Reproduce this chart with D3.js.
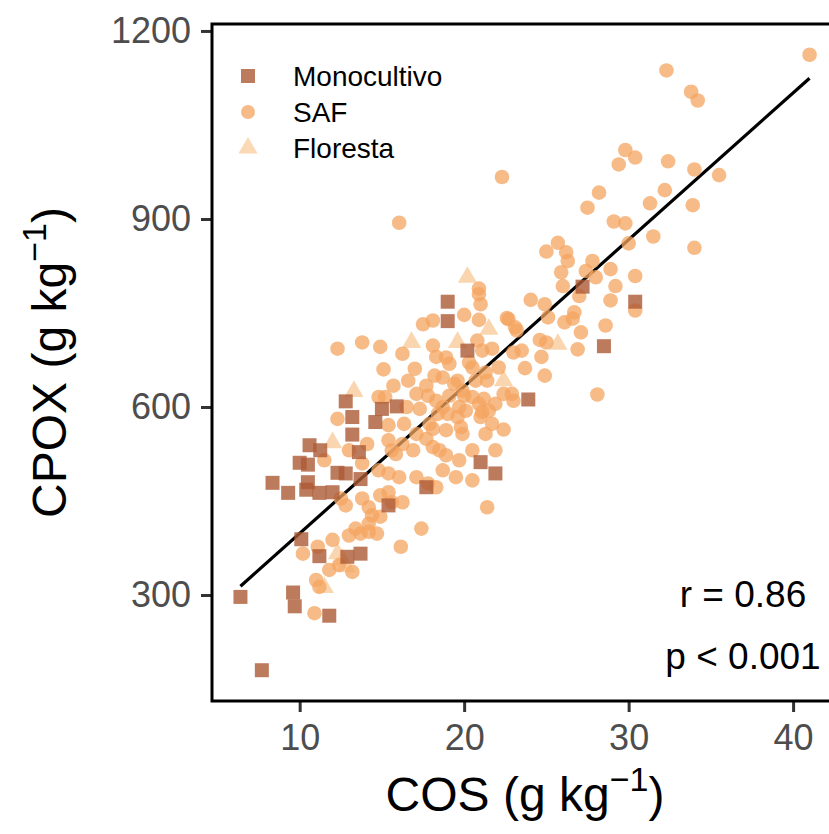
<!DOCTYPE html>
<html>
<head>
<meta charset="utf-8">
<script src="https://cdn.jsdelivr.net/npm/d3@7"></script>
<style>
  body { margin: 0; background: #fff; }
  svg { display: block; font-family: "Liberation Sans", Arial, sans-serif; }
</style>
</head>
<body>
<svg id="chart" width="829" height="834"></svg>
<script>
// COS (x) vs CPOX (y), three land uses

var mono = [[6.4,297],[7.7,180],[9.6,304],[9.7,282],[11.8,267],[10.1,389],[11.2,362],[12.9,361],
  [13.7,366],[8.35,479],[9.3,463],[10.5,480],[10.4,468],[11.2,463],[12.0,464],[12.3,495],
  [12.8,494],[13.7,485],[10.0,511],[10.5,508],[10.6,539],[11.25,531],[13.6,528],[13.2,556],
  [14.6,576],[13.2,584],[12.8,609],[15.0,597],[15.9,601],[15.4,443],[17.7,472],[21.0,512],
  [21.9,494],[19.0,768],[19.0,737],[20.2,690],[23.9,612],[27.2,792],[28.5,697],[30.4,768]];

var saf = [[41.0,1162],[32.3,1137],[33.8,1103],[34.2,1089],[22.3,967],[16.05,894],
  [29.8,1010],[30.4,998],[29.4,987],[32.4,992],[34.0,979],[35.5,970],
  [28.2,942],[27.5,918],[32.2,946],[31.3,925],[33.9,922],[29.1,896],[29.8,893],[31.5,872],
  [25.7,862],[25.0,848],[26.2,847],[30.0,861],[34.0,854],
  [26.3,833],[25.9,815],[27.8,833],[27.4,817],[28.0,807],[28.9,820],[30.4,809],[29.2,793],
  [26.0,793],[20.9,789],[27.0,777],[30.4,754],[28.9,770],[24.05,771],[24.9,764],[22.7,740],
  [25.1,743],[26.1,735],[26.7,751],[26.6,741],[28.6,730],[27.1,719],[23.2,722],[24.6,707],
  [25.0,703],[26.9,692],[23.0,687],[23.5,690],[24.7,680],[22.1,663],[23.7,662],[24.9,650],
  [22.4,621],[23.0,610],[28.1,620],[22.4,564],
  [20.9,780],[21.0,764],[20.0,747],[20.9,739],[22.6,742],[23.1,727],[20.8,706],[21.7,693],
  [21.1,690],[18.9,679],[19.1,669],[20.3,671],[20.5,663],[21.3,655],[18.7,647],[19.6,642],
  [20.7,642],[21.4,642],[22.9,621],[21.2,613],[21.9,605],[20.0,618],[19.7,600],[20.1,594],
  [19.1,618],[19.0,589],[21.1,592],[21.0,584],[19.8,568],[19.9,557],
  [17.5,732],[18.1,738],[12.3,693],[13.8,703],[14.9,696],[16.25,685],[18.1,698],[18.3,680],
  [15.1,660],[17.0,661],[18.2,650],[16.6,642],[15.7,634],[17.7,634],[17.1,621],[17.8,618],
  [14.8,616],[15.2,616],[16.5,600],[18.3,610],[18.4,589],[18.7,600],[12.3,581],[15.4,571],
  [16.35,573],[17.9,573],[19.4,637],[19.9,626],[20.5,616],[17.3,597],[19.6,584],[18.1,565],
  [18.9,563],[20.9,605],[21.5,594],[21.7,573],
  [14.1,541],[11.5,515],[14.8,499],[15.4,494],[16.05,488],[17.1,488],[17.8,478],[18.7,499],
  [19.5,488],[20.5,483],[15.6,531],[16.9,531],[18.1,536],[18.9,523],[19.7,515],[20.5,531],
  [21.3,557],[21.9,531],[13.0,531],[13.8,510],[15.4,547],[15.85,525],[16.25,541],[17.1,557],
  [17.7,549],[18.5,531],[18.3,472],
  [12.8,443],[12.5,454],[13.8,454],[14.2,440],[14.9,459],[15.4,464],[15.6,448],[16.25,448],
  [14.4,427],[14.9,425],[14.2,414],[13.4,406],[13.7,398],[14.2,401],[14.7,398],[13.0,395],
  [17.4,406],[16.15,377],[12.0,388],[11.1,377],[10.2,366],[11.8,340],[12.4,348],[13.2,337],
  [11.0,324],[11.2,313],[10.9,271],[21.4,440]];

var flor = [[20.2,807],[16.8,703],[19.6,703],[21.5,724],[13.3,625],[12.0,543],[25.7,700],
  [22.4,642],[12.3,366],[12.6,356],[12.8,345],[11.5,312]];

var groups = ["Monocultivo", "SAF", "Floresta"];
var groupColors = ["#ac5a35", "#f4a460", "#f9cc9c"];
var xTicks = [10, 20, 30, 40];
var yTicks = [300, 600, 900, 1200];
var fit = [164, 23.43];   // intercept, slope of lm line
var stats = ["r = 0.86", "p < 0.001"];

var svg = d3.select("#chart");
var pLeft = 212, pRight = 838, pTop = 24, pBottom = 701;

var all = mono.concat(saf, flor);
var xExt = d3.extent(all, d => d[0]), yExt = d3.extent(all, d => d[1]);
var xPad = (xExt[1] - xExt[0]) * 0.05, yPad = (yExt[1] - yExt[0]) * 0.05;

var x = d3.scaleLinear().domain([xExt[0] - xPad, xExt[1] + xPad]).range([pLeft, pRight]);
var y = d3.scaleLinear().domain([yExt[0] - yPad, yExt[1] + yPad]).range([pBottom, pTop]);

// regression line (under the points)
svg.append("line")
  .attr("x1", x(xExt[0])).attr("y1", y(fit[0] + fit[1] * xExt[0]))
  .attr("x2", x(xExt[1])).attr("y2", y(fit[0] + fit[1] * xExt[1]))
  .attr("stroke", "#000").attr("stroke-width", 3.2);

var symTri = d3.symbol().type(d3.symbolTriangle).size(160);

svg.append("g").selectAll("path").data(flor).join("path")
  .attr("d", symTri)
  .attr("transform", d => "translate(" + x(d[0]) + "," + y(d[1]) + ")")
  .attr("fill", groupColors[2]).attr("fill-opacity", 0.8);

svg.append("g").selectAll("circle").data(saf).join("circle")
  .attr("cx", d => x(d[0])).attr("cy", d => y(d[1])).attr("r", 7.3)
  .attr("fill", groupColors[1]).attr("fill-opacity", 0.75);

svg.append("g").selectAll("rect").data(mono).join("rect")
  .attr("x", d => x(d[0]) - 7).attr("y", d => y(d[1]) - 7)
  .attr("width", 14).attr("height", 14)
  .attr("fill", groupColors[0]).attr("fill-opacity", 0.8);

// axes
var xAxis = svg.append("g").attr("transform", "translate(0," + pBottom + ")")
  .call(d3.axisBottom(x).tickValues(xTicks).tickFormat(d3.format("d")).tickSize(11).tickPadding(6));
var yAxis = svg.append("g").attr("transform", "translate(" + pLeft + ",0)")
  .call(d3.axisLeft(y).tickValues(yTicks).tickFormat(d3.format("d")).tickSize(11).tickPadding(10));
[xAxis, yAxis].forEach(function(a) {
  a.select(".domain").remove();
  a.selectAll(".tick line").attr("stroke", "#333").attr("stroke-width", 3);
  a.selectAll(".tick text").attr("fill", "#4d4d4d").attr("font-size", 36)
    .attr("font-family", "Liberation Sans, Arial, sans-serif");
});
xAxis.selectAll(".tick text").attr("dy", "0.9em");

svg.append("path")
  .attr("d", "M" + pRight + "," + pTop + "H" + pLeft + "V" + pBottom + "H" + pRight)
  .attr("fill", "none").attr("stroke", "#000").attr("stroke-width", 3);

// axis titles
var xt = svg.append("text").attr("x", (pLeft + pRight) / 2).attr("y", 811)
  .attr("text-anchor", "middle").attr("font-size", 48).attr("fill", "#000");
xt.append("tspan").text("COS (g kg");
xt.append("tspan").text("\u22121").attr("font-size", 34).attr("dy", -20);
xt.append("tspan").text(")").attr("dy", 20);

var yt = svg.append("text").attr("transform", "translate(66," + (pTop + pBottom) / 2 + ") rotate(-90)")
  .attr("text-anchor", "middle").attr("font-size", 48).attr("fill", "#000");
yt.append("tspan").text("CPOX (g kg");
yt.append("tspan").text("\u22121").attr("font-size", 34).attr("dy", -20);
yt.append("tspan").text(")").attr("dy", 20);

// stats
svg.append("g").selectAll("text").data(stats).join("text")
  .attr("x", 743).attr("y", (d, i) => 607 + i * 62)
  .attr("text-anchor", "middle").attr("font-size", 37).attr("fill", "#000")
  .text(d => d);

// legend
var leg = svg.append("g").attr("transform", "translate(248,76)");
var legItems = leg.selectAll("g").data(groups).join("g")
  .attr("transform", (d, i) => "translate(0," + i * 36 + ")");
legItems.each(function(d, i) {
  var g = d3.select(this);
  if (i === 0) g.append("rect").attr("x", -7).attr("y", -7).attr("width", 14).attr("height", 14);
  else if (i === 1) g.append("circle").attr("r", 7);
  else g.append("path").attr("d", symTri);
  g.select(":first-child").attr("fill", groupColors[i]).attr("fill-opacity", i === 0 ? 0.8 : 0.75);
  g.append("text").attr("x", 45).attr("dy", "0.35em").attr("font-size", 28).text(d);
});
</script>
</body>
</html>
